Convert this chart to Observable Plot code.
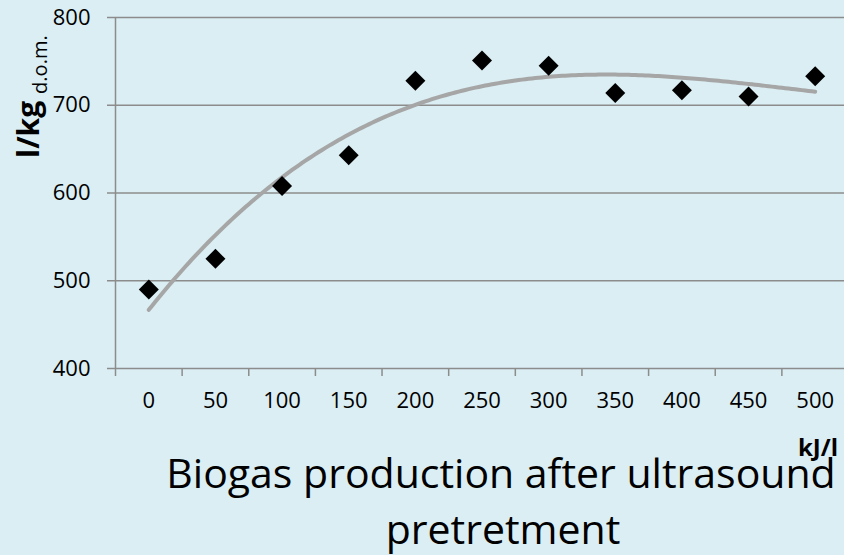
<!DOCTYPE html>
<html>
<head>
<meta charset="utf-8">
<script src="https://cdn.jsdelivr.net/npm/d3@7"></script>
<script src="https://cdn.jsdelivr.net/npm/@observablehq/plot@0.6"></script>
<style>
  html, body { margin: 0; padding: 0; background: #DAEEF3; overflow: hidden; }
  #wrap { position: relative; width: 844px; height: 555px; overflow: hidden; background: #DAEEF3; }
  #overlay { position: absolute; left: 0; top: 0; pointer-events: none; }
</style>
</head>
<body>
<div id="wrap"></div>
<script>
// ---- data ----
const energy = [0, 50, 100, 150, 200, 250, 300, 350, 400, 450, 500];      // kJ/l
const biogas = [490, 525, 608, 643, 728, 751, 745, 714, 717, 710, 733];   // l/kg d.o.m.
const yTicks = [400, 500, 600, 700, 800];
const titleLines = ["Biogas production after ultrasound", "pretretment"];
const xUnit = "kJ/l";
const yUnitMain = "l/kg";
const yUnitSub = "d.o.m.";

const data = energy.map((e, i) => ({energy: e, biogas: biogas[i]}));

// category boundaries (Excel category-axis tick marks between categories)
const step = energy[1] - energy[0];
const boundaries = energy.map(e => e - step / 2);

// cubic polynomial trendline (least squares, like Excel's order-3 trendline)
function polyFit(xs, ys, order) {
  const n = order + 1;
  const A = Array.from({length: n}, () => new Array(n + 1).fill(0));
  xs.forEach((x, k) => {
    for (let i = 0; i < n; i++) {
      for (let j = 0; j < n; j++) A[i][j] += Math.pow(x, i + j);
      A[i][n] += ys[k] * Math.pow(x, i);
    }
  });
  for (let c = 0; c < n; c++) {
    let p = c;
    for (let r = c + 1; r < n; r++) if (Math.abs(A[r][c]) > Math.abs(A[p][c])) p = r;
    [A[c], A[p]] = [A[p], A[c]];
    for (let r = 0; r < n; r++) {
      if (r === c) continue;
      const f = A[r][c] / A[c][c];
      for (let k = c; k <= n; k++) A[r][k] -= f * A[c][k];
    }
  }
  return A.map((row, i) => row[n] / row[i]);
}
const idx = energy.map((_, i) => i + 1);
const coef = polyFit(idx, biogas, 3);
const trend = d3.range(1, energy.length + 0.001, 0.05).map(t => ({
  energy: energy[0] + (t - 1) * step,
  biogas: coef.reduce((s, c, i) => s + c * Math.pow(t, i), 0)
}));

const grid = "#8c8c8c";
const font = "'Open Sans', Lato, sans-serif";

const chart = Plot.plot({
  width: 848,
  height: 420,
  marginLeft: 115,
  marginRight: 0,
  marginTop: 17,
  marginBottom: 52,
  style: {background: "transparent", maxWidth: "none", fontFamily: font, overflow: "visible"},
  x: {domain: [boundaries[0], energy[energy.length - 1] + step / 2]},
  y: {domain: [yTicks[0], yTicks[yTicks.length - 1]]},
  marks: [
    Plot.ruleY(yTicks, {stroke: grid, strokeWidth: 1.5}),
    Plot.ruleX([boundaries[0]], {stroke: grid, strokeWidth: 1.5}),
    Plot.axisY({ticks: yTicks, tickSize: 8, tickPadding: 17, stroke: grid, strokeWidth: 1.5, fill: "black", fontSize: 22, label: null}),
    Plot.axisX({ticks: boundaries, tickSize: 8, tickFormat: () => "", stroke: grid, strokeWidth: 1.5, label: null}),
    Plot.axisX({ticks: energy, tickSize: 0, tickPadding: 24, fill: "black", fontSize: 22, label: null}),
    Plot.line(trend, {x: "energy", y: "biogas", stroke: "#a6a6a6", strokeWidth: 4, strokeLinecap: "round", curve: "linear"}),
    Plot.dot(data, {x: "energy", y: "biogas", symbol: "diamond2", r: 9, fill: "black", stroke: "none"})
  ]
});
const wrap = document.getElementById("wrap");
wrap.appendChild(chart);

// overlay texts: title, axis units
const ns = "http://www.w3.org/2000/svg";
const ov = document.createElementNS(ns, "svg");
ov.setAttribute("id", "overlay");
ov.setAttribute("width", 844);
ov.setAttribute("height", 555);
ov.style.fontFamily = font;
function addText(parent, attrs, txt) {
  const t = document.createElementNS(ns, "text");
  for (const k in attrs) t.setAttribute(k, attrs[k]);
  if (txt != null) t.textContent = txt;
  parent.appendChild(t);
  return t;
}
addText(ov, {x: 501, y: 488, "text-anchor": "middle", "font-size": 41, fill: "black"}, titleLines[0]);
addText(ov, {x: 503, y: 544, "text-anchor": "middle", "font-size": 41, fill: "black"}, titleLines[1]);
addText(ov, {x: 838, y: 456, "text-anchor": "end", "font-size": 24, "font-weight": "bold", fill: "black"}, xUnit);
const yl = addText(ov, {transform: "translate(39,158) rotate(-90)", fill: "black"});
const s1 = document.createElementNS(ns, "tspan");
s1.setAttribute("font-size", 30); s1.setAttribute("font-weight", "bold"); s1.textContent = yUnitMain;
const s2 = document.createElementNS(ns, "tspan");
s2.setAttribute("font-size", 20); s2.setAttribute("dy", 8); s2.setAttribute("dx", 7); s2.textContent = yUnitSub;
yl.appendChild(s1); yl.appendChild(s2);
wrap.appendChild(ov);
</script>
</body>
</html>
